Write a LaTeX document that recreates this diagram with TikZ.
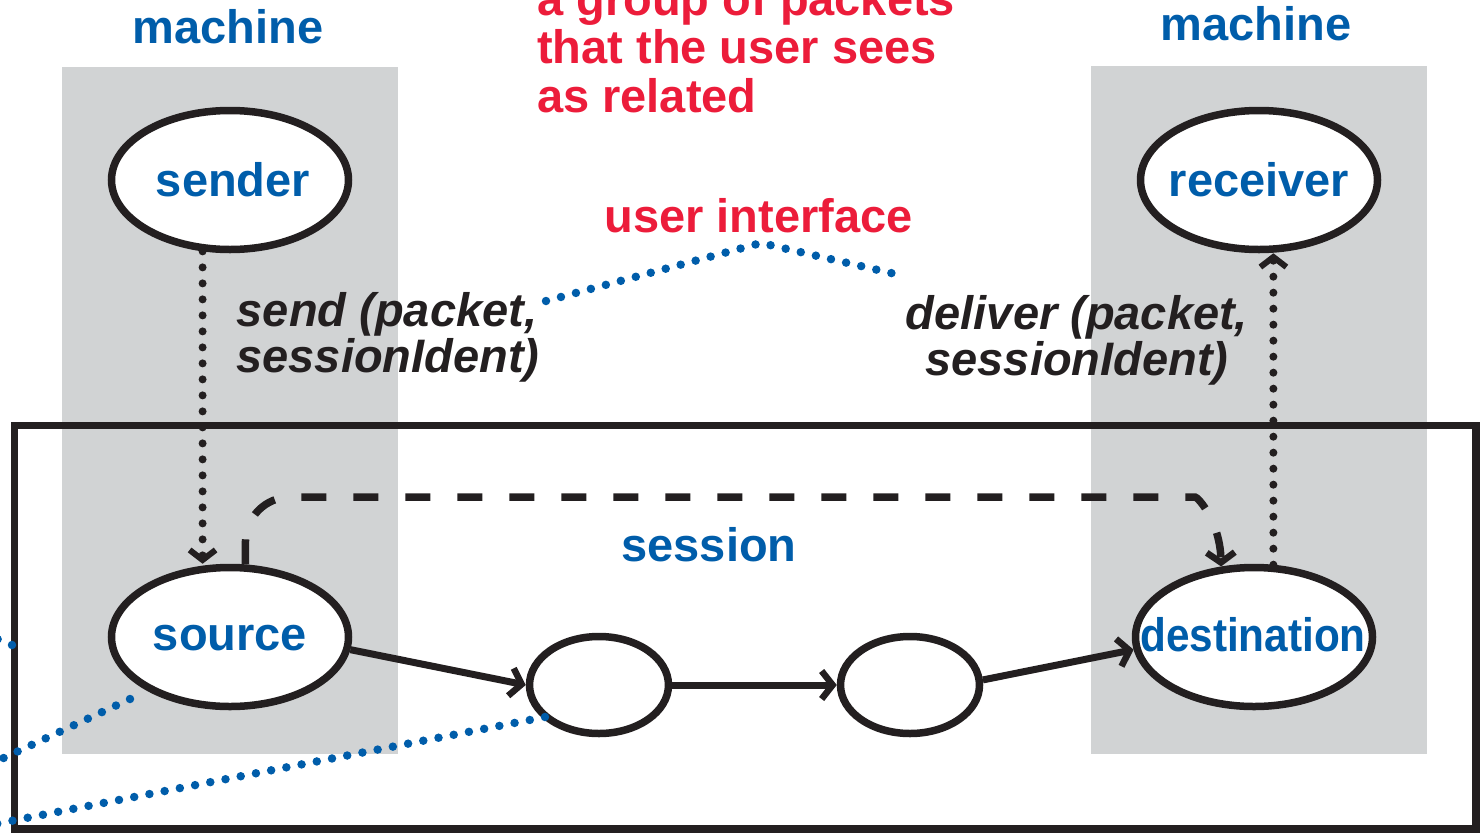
\documentclass[tikz,border=0pt]{standalone}
\usepackage{fontspec}
\setmainfont{Liberation Sans}
\usetikzlibrary{shapes.geometric,arrows.meta,calc}

\definecolor{ink}{HTML}{231F20}
\definecolor{netblue}{HTML}{005DAA}
\definecolor{alertred}{HTML}{EC1C3A}
\definecolor{hostgray}{HTML}{D1D3D4}

\tikzset{
  every node/.style={font=\fontsize{47}{49}\selectfont\bfseries},
  proc/.style={ellipse, draw=ink, line width=7.5pt, fill=white, inner sep=0pt},
  bigproc/.style={proc, minimum width=237pt, minimum height=139pt},
  relay/.style={proc, minimum width=139pt, minimum height=97pt},
  bluetext/.style={text=netblue, inner sep=0pt, anchor=base},
  redtext/.style={text=alertred, inner sep=0pt, anchor=base west},
  calltext/.style={text=ink, inner sep=0pt, anchor=base, font=\fontsize{47}{49}\selectfont\bfseries\itshape},
  tip/.style={-{Straight Barb[length=11pt,width=28pt,line width=6.5pt]}},
  flow/.style={draw=ink, line width=7pt, tip},
  localcall/.style={draw=ink, line width=8pt, line cap=round, dash pattern=on 0pt off 16pt,
    -{Straight Barb[length=10pt,width=26pt,line cap=butt,line width=6pt]}},
  sessionpath/.style={draw=ink, line width=7.5pt, dash pattern=on 25pt off 27pt,
    -{Straight Barb[length=10pt,width=28pt,line width=6.5pt]}},
  pointer/.style={draw=netblue, line width=8.5pt, line cap=round, dash pattern=on 0pt off 15.5pt},
}

\begin{document}
\begin{tikzpicture}[x=1pt, y=-1pt]
  \useasboundingbox (0,0) rectangle (1483,833);
  \clip (0,0) rectangle (1483,833);

  % host machines
  \fill[hostgray] (62,67) rectangle (398,754);
  \fill[hostgray] (1091,66) rectangle (1427,754);
  \node[bluetext] (machineL) at (228,43) {machine};
  \node[bluetext] (machineR) at (1256,40) {machine};

  % session frame
  \draw[ink, line width=7.5pt] (14.5,425.5) rectangle (1476,829);

  % explanatory red text
  \node[redtext] (g1) at (537,15) {a group of packets};
  \node[redtext] (g2) at (537,63) {that the user sees};
  \node[redtext] (g3) at (537,112) {as related};
  \node[redtext, anchor=base] (ui) at (758.5,232) {user interface};

  % processes
  \node[bigproc] (sender) at (230,180) {};
  \node[bigproc] (receiver) at (1259,180) {};
  \node[bigproc] (source) at (230,637) {};
  \node[bigproc] (destination) at (1254,637) {};
  \node[relay] (hopA) at (599,685) {};
  \node[relay] (hopB) at (910,685) {};

  \node[bluetext] (tsender) at (233,196) {sender};
  \node[bluetext] (treceiver) at (1259,196) {receiver};
  \node[bluetext] (tsource) at (230,650) {source};
  \node[bluetext] (tdest) at (1253,651) {\scalebox{0.9}[1]{destination}};
  \node[bluetext] (tsession) at (709,561) {session};

  % service primitives
  \node[calltext] (send1) at (387,326) {send (packet,};
  \node[calltext] (send2) at (388,372) {sessionIdent)};
  \node[calltext] (dlv1) at (1077,329) {deliver (packet,};
  \node[calltext] (dlv2) at (1077,375) {sessionIdent)};

  % packet flow through the network
  \draw[flow] (source.-6) -- (hopA.west);
  \draw[flow] (hopA.east) -- (hopB.west);
  \draw[flow] (hopB.4) -- (destination.186);

  % local calls between user and session end points
  \draw[localcall] (sender.-111) -- (sender.-111 |- source.north);
  \draw[localcall] (destination.75) -- (destination.75 |- receiver.south);

  % end-to-end session
  \coordinate (sesR) at (1150,497);
  \draw[sessionpath, rounded corners=45pt]
    (source.78) |- (sesR) .. controls (1198,497) and (1220,522) .. (destination.115);

  % pointers from the labels
  \coordinate (uiPeak) at (761,243);
  \coordinate (uiL) at (546,301);
  \coordinate (uiR) at (904,276);
  \draw[pointer] (uiL) -- (uiPeak) -- (uiR);

  \coordinate (srcPt) at (130,699);
  \coordinate (offA) at (-20,769);
  \draw[pointer] (srcPt) -- (offA);

  \coordinate (hopPt) at (545,717);
  \coordinate (offB) at (-20,827);
  \draw[pointer] (hopPt) -- (offB);

  \coordinate (edgePt) at (12,645);
  \coordinate (offC) at (-20,632);
  \draw[pointer] (edgePt) -- (offC);
\end{tikzpicture}
\end{document}
